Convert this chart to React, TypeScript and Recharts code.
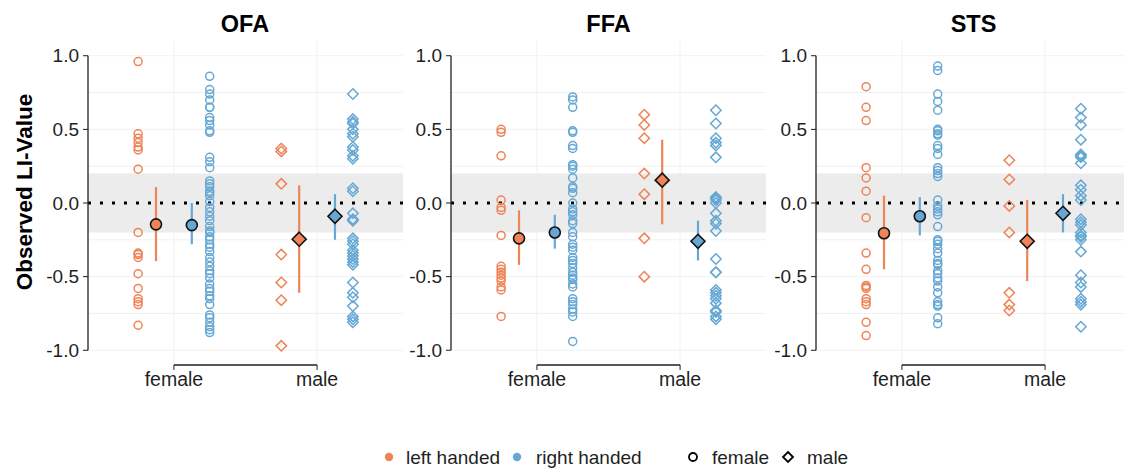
import {
  ScatterChart,
  Scatter,
  XAxis,
  YAxis,
  CartesianGrid,
  ReferenceArea,
  ReferenceLine,
  ErrorBar,
} from 'recharts';

const ORANGE = '#EE8457';
const BLUE = '#66A8D4';
const INK = '#1f1f1f';
const FONT = '"Liberation Sans", Arial, Helvetica, sans-serif';

const sexes = ['female', 'male'];
const yTicks = [-1, -0.5, 0, 0.5, 1];
const gridValues = [-1, -0.75, -0.5, -0.25, 0, 0.25, 0.5, 0.75, 1];

// OFA raw LI values
const ofaFemaleLeft = [0.96, 0.47, 0.44, 0.41, 0.38, 0.36, 0.23, -0.2, -0.34, -0.35, -0.37, -0.48, -0.58, -0.65, -0.67, -0.69, -0.83];
const ofaFemaleRight = [0.86, 0.77, 0.74, 0.7, 0.65, 0.65, 0.58, 0.56, 0.53, 0.49, 0.48, 0.31, 0.28, 0.24, 0.15, 0.13, 0.11, 0.08, 0.07, 0.05, 0.01, -0.03, -0.06, -0.09, -0.12, -0.16, -0.19, -0.2, -0.23, -0.25, -0.28, -0.3, -0.33, -0.37, -0.4, -0.43, -0.46, -0.48, -0.51, -0.55, -0.58, -0.6, -0.63, -0.65, -0.69, -0.76, -0.78, -0.81, -0.84, -0.86, -0.88];
const ofaMaleLeft = [0.37, 0.35, 0.13, -0.35, -0.54, -0.66, -0.97];
const ofaMaleRight = [0.74, 0.57, 0.55, 0.54, 0.5, 0.47, 0.45, 0.38, 0.36, 0.32, 0.3, 0.1, 0.08, -0.07, -0.11, -0.12, -0.24, -0.26, -0.28, -0.32, -0.34, -0.36, -0.38, -0.4, -0.42, -0.54, -0.61, -0.64, -0.7, -0.77, -0.79, -0.81];

// FFA raw LI values
const ffaFemaleLeft = [0.5, 0.48, 0.32, 0.02, -0.03, -0.05, -0.22, -0.43, -0.45, -0.47, -0.49, -0.51, -0.53, -0.57, -0.59, -0.77];
const ffaFemaleRight = [0.72, 0.7, 0.65, 0.49, 0.48, 0.39, 0.37, 0.26, 0.25, 0.23, 0.17, 0.11, 0.1, 0.07, 0.0, -0.04, -0.06, -0.08, -0.12, -0.14, -0.2, -0.23, -0.28, -0.3, -0.32, -0.37, -0.39, -0.41, -0.44, -0.47, -0.49, -0.51, -0.52, -0.55, -0.57, -0.65, -0.67, -0.69, -0.72, -0.74, -0.77, -0.94];
const ffaMaleLeft = [0.6, 0.53, 0.44, 0.2, 0.06, -0.24, -0.5];
const ffaMaleRight = [0.63, 0.54, 0.44, 0.41, 0.39, 0.31, 0.04, 0.03, 0.02, 0.0, -0.07, -0.12, -0.14, -0.19, -0.38, -0.47, -0.47, -0.59, -0.61, -0.63, -0.65, -0.68, -0.73, -0.74, -0.77, -0.79];

// STS raw LI values
const stsFemaleLeft = [0.79, 0.65, 0.56, 0.24, 0.17, 0.08, -0.1, -0.34, -0.45, -0.56, -0.57, -0.58, -0.65, -0.67, -0.69, -0.81, -0.9];
const stsFemaleRight = [0.93, 0.9, 0.74, 0.69, 0.63, 0.5, 0.49, 0.47, 0.46, 0.39, 0.37, 0.33, 0.24, 0.22, 0.2, 0.18, 0.02, -0.02, -0.04, -0.06, -0.08, -0.16, -0.25, -0.26, -0.28, -0.31, -0.34, -0.39, -0.41, -0.42, -0.46, -0.48, -0.51, -0.53, -0.57, -0.61, -0.67, -0.69, -0.7, -0.78, -0.82];
const stsMaleLeft = [0.29, 0.16, -0.02, -0.2, -0.61, -0.69, -0.73];
const stsMaleRight = [0.64, 0.58, 0.53, 0.43, 0.33, 0.32, 0.31, 0.27, 0.12, 0.09, 0.05, 0.02, -0.11, -0.13, -0.15, -0.2, -0.22, -0.23, -0.25, -0.33, -0.49, -0.54, -0.57, -0.65, -0.67, -0.69, -0.84];

// estimated means with interval: [sex, hand, mean, lower, upper]
const ofaSummary = [
  ['female', 'left', -0.145, -0.395, 0.108],
  ['female', 'right', -0.15, -0.28, 0.0],
  ['male', 'left', -0.246, -0.61, 0.12],
  ['male', 'right', -0.09, -0.25, 0.06],
];
const ffaSummary = [
  ['female', 'left', -0.24, -0.42, -0.05],
  ['female', 'right', -0.2, -0.31, -0.08],
  ['male', 'left', 0.155, -0.145, 0.43],
  ['male', 'right', -0.26, -0.39, -0.12],
];
const stsSummary = [
  ['female', 'left', -0.205, -0.45, 0.05],
  ['female', 'right', -0.09, -0.22, 0.04],
  ['male', 'left', -0.26, -0.53, 0.02],
  ['male', 'right', -0.07, -0.2, 0.06],
];

// dodge offsets around each category
const RAW_OFFSET = { left: -0.25, right: 0.25 };
const MEAN_OFFSET = { left: -0.125, right: 0.125 };

const PLOT_W = 315;
const AXIS_W = 60;

function rawPoints(female: number[], male: number[], hand: 'left' | 'right') {
  return [
    ...female.map((y) => ({ x: 1 + RAW_OFFSET[hand], y, sex: 'female' })),
    ...male.map((y) => ({ x: 2 + RAW_OFFSET[hand], y, sex: 'male' })),
  ];
}

function meanPoints(summary: any[], hand: 'left' | 'right') {
  return summary
    .filter((r) => r[1] === hand)
    .map(([sex, , mean, lo, hi]) => ({
      x: sexes.indexOf(sex) + 1 + MEAN_OFFSET[hand],
      y: mean,
      err: [mean - lo, hi - mean],
      sex,
    }));
}

function RawShape(props: any, color: string) {
  const { cx, cy, payload } = props;
  if (cx == null || cy == null) return null;
  if (payload.sex === 'female') {
    return <circle cx={cx} cy={cy} r={4} fill="none" stroke={color} strokeWidth={1.5} />;
  }
  const d = 5.2;
  return (
    <polygon
      points={`${cx},${cy - d} ${cx + d},${cy} ${cx},${cy + d} ${cx - d},${cy}`}
      fill="none"
      stroke={color}
      strokeWidth={1.5}
    />
  );
}

function MeanShape(props: any, color: string) {
  const { cx, cy, payload } = props;
  if (cx == null || cy == null) return null;
  if (payload.sex === 'female') {
    return <circle cx={cx} cy={cy} r={5.5} fill={color} stroke="#111" strokeWidth={1.6} />;
  }
  const d = 7;
  return (
    <polygon
      points={`${cx},${cy - d} ${cx + d},${cy} ${cx},${cy + d} ${cx - d},${cy}`}
      fill={color}
      stroke="#111"
      strokeWidth={1.6}
    />
  );
}

function Panel({ left, fl, fr, ml, mr, summary }: any) {
  return (
    <div style={{ position: 'absolute', left: left - AXIS_W, top: 0 }}>
      <ScatterChart
        width={AXIS_W + PLOT_W}
        height={400}
        margin={{ top: 41, right: 0, bottom: 0, left: 0 }}
      >
        <CartesianGrid
          horizontalValues={gridValues}
          verticalValues={[1, 2]}
          stroke="#f1f1f1"
          strokeWidth={1}
        />
        <XAxis
          type="number"
          dataKey="x"
          domain={[0.4, 2.6]}
          ticks={[1, 2]}
          interval={0}
          allowDataOverflow
          tickFormatter={(v: number) => sexes[v - 1]}
          axisLine={false}
          tickLine={{ stroke: INK }}
          tickSize={5}
          tickMargin={2}
          tick={{ fontSize: 19.5, fill: INK, fontFamily: FONT }}
          height={35}
        />
        <YAxis
          type="number"
          dataKey="y"
          domain={[-1.1, 1.1]}
          ticks={yTicks}
          interval={0}
          allowDataOverflow
          tickFormatter={(v: number) => v.toFixed(1)}
          axisLine={false}
          tickLine={{ stroke: INK }}
          tickSize={5}
          tickMargin={4}
          tick={{ fontSize: 19, fill: INK, fontFamily: FONT }}
          width={AXIS_W}
        />
        <ReferenceArea x1={0.4} x2={2.6} y1={-0.2} y2={0.2} fill="#ececec" fillOpacity={1} stroke="none" />
        <ReferenceLine y={0} stroke="#000" strokeWidth={3} strokeDasharray="3 9" />
        <ReferenceLine segment={[{ x: 0.4, y: -1 }, { x: 0.4, y: 1 }]} stroke={INK} strokeWidth={1.3} />
        <ReferenceLine segment={[{ x: 1, y: -1.1 }, { x: 2, y: -1.1 }]} stroke={INK} strokeWidth={1.3} />
        <Scatter data={rawPoints(fl, ml, 'left')} isAnimationActive={false} shape={(p: any) => RawShape(p, ORANGE)} />
        <Scatter data={rawPoints(fr, mr, 'right')} isAnimationActive={false} shape={(p: any) => RawShape(p, BLUE)} />
        <Scatter data={meanPoints(summary, 'left')} isAnimationActive={false} shape={(p: any) => MeanShape(p, ORANGE)}>
          <ErrorBar dataKey="err" direction="y" width={0} stroke={ORANGE} strokeWidth={2.2} />
        </Scatter>
        <Scatter data={meanPoints(summary, 'right')} isAnimationActive={false} shape={(p: any) => MeanShape(p, BLUE)}>
          <ErrorBar dataKey="err" direction="y" width={0} stroke={BLUE} strokeWidth={2.2} />
        </Scatter>
      </ScatterChart>
    </div>
  );
}

export default function App() {
  const panels = [
    { title: 'OFA', left: 87.5, fl: ofaFemaleLeft, fr: ofaFemaleRight, ml: ofaMaleLeft, mr: ofaMaleRight, summary: ofaSummary },
    { title: 'FFA', left: 451, fl: ffaFemaleLeft, fr: ffaFemaleRight, ml: ffaMaleLeft, mr: ffaMaleRight, summary: ffaSummary },
    { title: 'STS', left: 816, fl: stsFemaleLeft, fr: stsFemaleRight, ml: stsMaleLeft, mr: stsMaleRight, summary: stsSummary },
  ];

  return (
    <div
      style={{
        position: 'relative',
        width: 1124,
        height: 469,
        overflow: 'hidden',
        background: '#fff',
        fontFamily: FONT,
      }}
    >
      <style>{'body{margin:0}'}</style>
      {panels.map((p) => (
        <Panel key={p.title} {...p} />
      ))}
      <svg
        width={1124}
        height={469}
        style={{ position: 'absolute', left: 0, top: 0, pointerEvents: 'none' }}
        fontFamily={FONT}
      >
        {panels.map((p) => (
          <text key={p.title} x={p.left + PLOT_W / 2} y={32} textAnchor="middle" fontSize={23.5} fontWeight="bold" fill="#000">
            {p.title}
          </text>
        ))}
        <text
          transform="translate(32,192) rotate(-90)"
          textAnchor="middle"
          fontSize={22.5}
          fontWeight="bold"
          fill="#000"
        >
          Observed LI-Value
        </text>
        {/* legend */}
        <circle cx={389} cy={457} r={4.2} fill={ORANGE} />
        <text x={406} y={464} fontSize={19} fill={INK}>left handed</text>
        <circle cx={517} cy={457} r={4.2} fill={BLUE} />
        <text x={536} y={464} fontSize={19} fill={INK}>right handed</text>
        <circle cx={693} cy={457} r={4} fill="none" stroke="#000" strokeWidth={1.8} />
        <text x={712} y={464} fontSize={19} fill={INK}>female</text>
        <polygon points="788,452 793,457 788,462 783,457" fill="none" stroke="#000" strokeWidth={1.8} />
        <text x={807} y={464} fontSize={19} fill={INK}>male</text>
      </svg>
    </div>
  );
}
